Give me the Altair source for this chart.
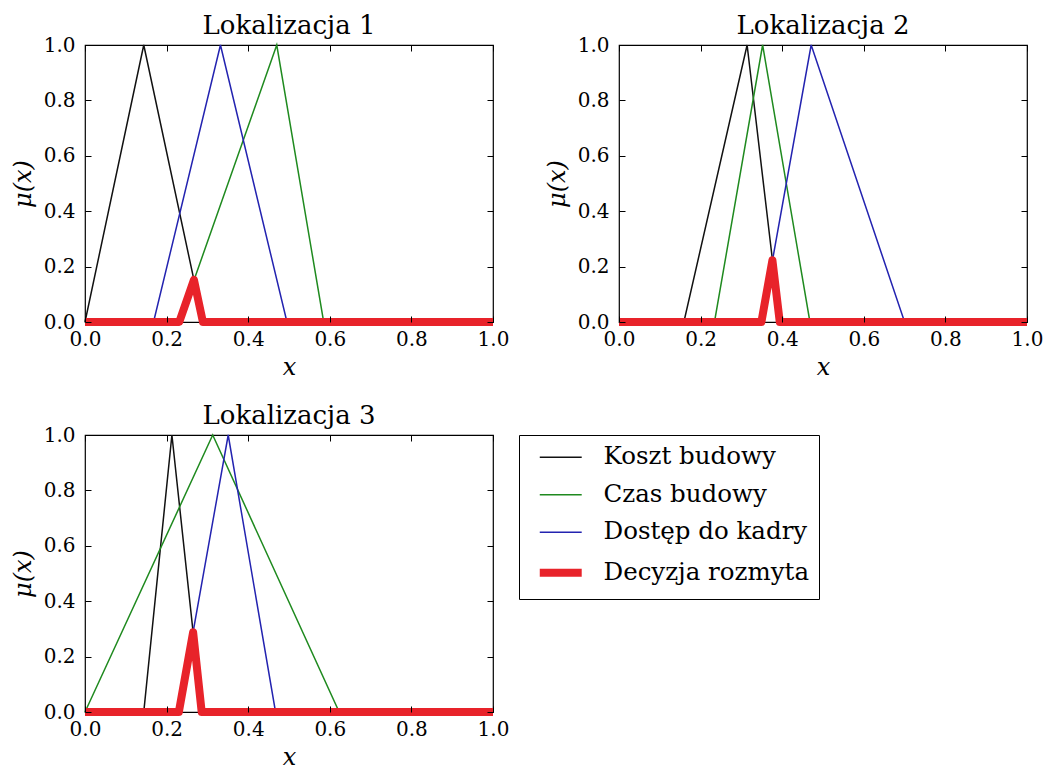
import altair as alt
import pandas as pd

FONT = "DejaVu Serif"
W, H = 408, 277

series_names = ["Koszt budowy", "Czas budowy", "Dostęp do kadry", "Decyzja rozmyta"]
series_colors = ["#111111", "#1f8a1f", "#2323b0", "#e8232a"]

titles = ["Lokalizacja 1", "Lokalizacja 2", "Lokalizacja 3"]

# triangular membership functions (left, peak, right)
loc1_koszt = [0.0, 0.144, 0.289]
loc1_czas = [0.231, 0.470, 0.585]
loc1_dostep = [0.168, 0.332, 0.495]
loc1_decyzja_x = [0.0, 0.231, 0.267, 0.289, 1.0]
loc1_decyzja_y = [0.0, 0.0, 0.152, 0.0, 0.0]

loc2_koszt = [0.159, 0.314, 0.394]
loc2_czas = [0.234, 0.352, 0.468]
loc2_dostep = [0.349, 0.471, 0.700]
loc2_decyzja_x = [0.0, 0.349, 0.376, 0.394, 1.0]
loc2_decyzja_y = [0.0, 0.0, 0.223, 0.0, 0.0]

loc3_koszt = [0.144, 0.213, 0.286]
loc3_czas = [0.0, 0.313, 0.623]
loc3_dostep = [0.230, 0.351, 0.467]
loc3_decyzja_x = [0.0, 0.230, 0.265, 0.286, 1.0]
loc3_decyzja_y = [0.0, 0.0, 0.288, 0.0, 0.0]

tick_values = [0.0, 0.2, 0.4, 0.6, 0.8, 1.0]

locations = [
    (loc1_koszt, loc1_czas, loc1_dostep, loc1_decyzja_x, loc1_decyzja_y),
    (loc2_koszt, loc2_czas, loc2_dostep, loc2_decyzja_x, loc2_decyzja_y),
    (loc3_koszt, loc3_czas, loc3_dostep, loc3_decyzja_x, loc3_decyzja_y),
]


def tri_rows(name, abc):
    a, b, c = abc
    xs, ys = [], []
    if a > 0:
        xs.append(0.0); ys.append(0.0)
    xs += [a, b, c]; ys += [0.0, 1.0, 0.0]
    if c < 1:
        xs.append(1.0); ys.append(0.0)
    return [{"x": x, "y": y, "series": name} for x, y in zip(xs, ys)]


def panel(idx, show_legend):
    k, cz, d, dx, dy = locations[idx]
    rows = tri_rows(series_names[0], k) + tri_rows(series_names[1], cz) + tri_rows(series_names[2], d)
    rows += [{"x": x, "y": y, "series": series_names[3]} for x, y in zip(dx, dy)]
    df = pd.DataFrame(rows)

    xs = alt.Scale(domain=[0, 1], nice=False, zero=False)
    ys = alt.Scale(domain=[0, 1], nice=False, zero=False)
    cs = alt.Scale(domain=series_names, range=series_colors)

    if show_legend:
        leg = alt.Legend(
            title=None, orient="right", offset=22,
            labelFont=FONT, labelFontSize=24.5, labelColor="black", labelLimit=400,
            symbolType="M-2,0H6", symbolSize=110, symbolOffset=9, labelOffset=41,
            rowPadding=12.5, padding=10, strokeColor="black",
            symbolStrokeWidth=alt.ExprRef("datum.value === 'Decyzja rozmyta' ? 8 : 1.5"),
        )
    else:
        leg = None

    common_axis = dict(
        labelFont=FONT, labelFontSize=20, labelColor="black", format=".1f",
        values=tick_values, grid=False, domain=False, tickColor="black",
        tickSize=6, offset=-6, tickWidth=1, ticks=True, labelFlush=False,
        titleFont=FONT, titleFontSize=24, titleFontStyle="italic",
        titleFontWeight="normal", titleColor="black", zindex=1,
    )
    tick_axis = dict(
        title=None, labels=False, values=tick_values, grid=False, domain=False,
        tickColor="black", tickSize=6, offset=-6, tickWidth=1, ticks=True, zindex=1,
        minExtent=0, maxExtent=0,
    )

    base = alt.Chart(df)
    thin = base.transform_filter(alt.datum.series != series_names[3]).mark_line(strokeWidth=1.5).encode(
        x=alt.X("x:Q", scale=xs, axis=alt.Axis(orient="bottom", title="x", labelPadding=7, titlePadding=6, **common_axis)),
        y=alt.Y("y:Q", scale=ys, axis=alt.Axis(orient="left", title="μ(x)", labelPadding=10, titlePadding=8, **common_axis)),
        color=alt.Color("series:N", scale=cs, legend=leg),
    )
    red = base.transform_filter(alt.datum.series == series_names[3]).mark_line(
        strokeWidth=8, strokeCap="butt", strokeJoin="round").encode(
        x=alt.X("x:Q", scale=xs, axis=alt.Axis(orient="top", **tick_axis)),
        y=alt.Y("y:Q", scale=ys, axis=alt.Axis(orient="right", **tick_axis)),
        color=alt.Color("series:N", scale=cs, legend=leg),
    )
    return alt.layer(thin, red).resolve_axis(x="independent", y="independent").properties(
        width=W, height=H,
        title=alt.TitleParams(titles[idx], font=FONT, fontSize=26, fontWeight="normal", color="black", offset=-4, anchor="middle"),
    )


p1 = panel(0, False)
p2 = panel(1, False)
p3 = panel(2, True)

top = alt.hconcat(p1, p2, spacing=34)
chart = alt.vconcat(top, p3, spacing=22).resolve_scale(color="independent").properties(
    padding={"left": 2, "top": 4, "right": 0, "bottom": 0}, background="white"
).configure_view(stroke="black", strokeWidth=1.2)

chart.save("out.html", embed_options={"renderer": "svg", "actions": False})
